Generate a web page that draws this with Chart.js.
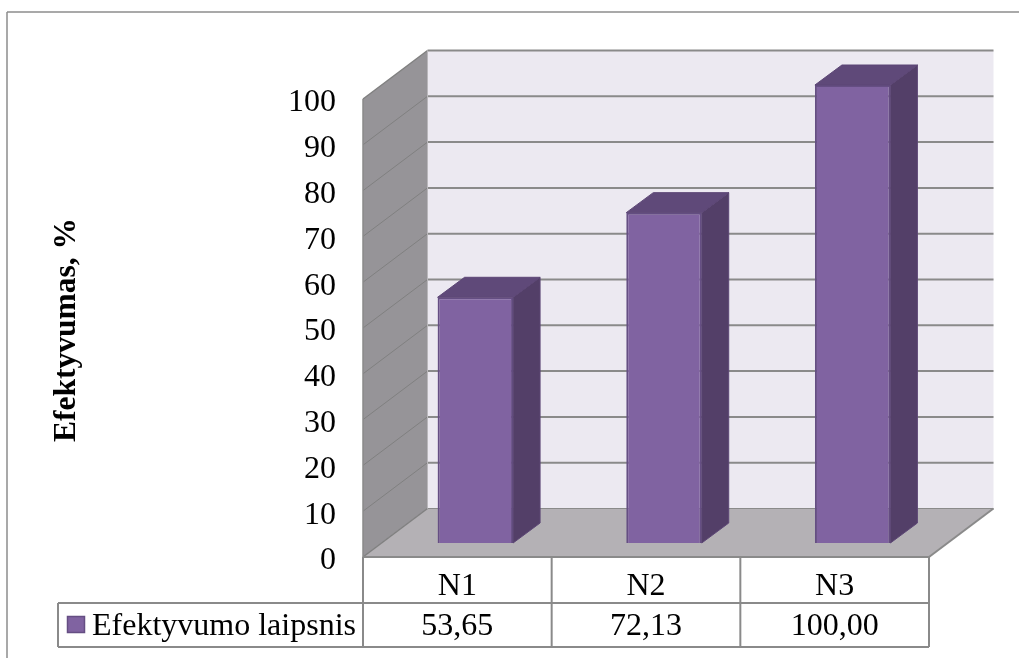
<!DOCTYPE html>
<html>
<head>
<meta charset="utf-8">
<title>Efektyvumas</title>
<script src="https://cdn.jsdelivr.net/npm/chart.js@4/dist/chart.umd.min.js"></script>
<style>
body { margin: 0; background: #fff; }
canvas { display: block; }
</style>
</head>
<body>
<canvas id="efficiency_chart" width="1019" height="658"></canvas>
<script>
const categories = ['N1', 'N2', 'N3']
const efficiency = [53.65, 72.13, 100.00]
const y_ticks = [0, 10, 20, 30, 40, 50, 60, 70, 80, 90, 100]
const series_name = 'Efektyvumo laipsnis'
const axis_title = 'Efektyvumas, %'

const FONT = '"Liberation Serif", "Times New Roman", serif'
const LINE = '#8a8a8a'
const depth = { x: 64.5, y: -48.5 }  // box depth, front plane to back wall
const bar_depth = { x: 27, y: -20 }
const bar_shift = { x: 18, y: -14 }  // bars stand in the middle of the floor

function poly(ctx, points, fill, stroke, width) {
    ctx.beginPath()
    points.forEach((p, i) => i ? ctx.lineTo(p[0], p[1]) : ctx.moveTo(p[0], p[1]))
    ctx.closePath()
    if (fill) {
        ctx.fillStyle = fill
        ctx.fill()
    }
    if (stroke) {
        ctx.strokeStyle = stroke
        ctx.lineWidth = width || 1
        ctx.stroke()
    }
}

function segment(ctx, x1, y1, x2, y2, color, width) {
    ctx.beginPath()
    ctx.moveTo(x1, y1)
    ctx.lineTo(x2, y2)
    ctx.strokeStyle = color
    ctx.lineWidth = width
    ctx.stroke()
}

// page frame, walls, floor and grid of the 3d box
const box3d = {
    id: 'box3d',
    beforeDatasetsDraw(chart) {
        const { ctx, scales: { x, y } } = chart
        const l = x.left, r = x.right, t = y.getPixelForValue(100), b = y.getPixelForValue(0)
        ctx.save()
        segment(ctx, 7, 12, 1019, 12, '#8c8c8c', 1.5)
        segment(ctx, 7, 12, 7, 658, '#8c8c8c', 1.5)

        poly(ctx, [[l + depth.x, t + depth.y], [r + depth.x, t + depth.y], [r + depth.x, b + depth.y], [l + depth.x, b + depth.y]], '#ece9f1')
        poly(ctx, [[l, t], [l + depth.x, t + depth.y], [l + depth.x, b + depth.y], [l, b]], '#969498')
        poly(ctx, [[l, b], [r, b], [r + depth.x, b + depth.y], [l + depth.x, b + depth.y]], '#b4b1b5')

        y_ticks.forEach(v => {
            const py = y.getPixelForValue(v)
            segment(ctx, l, py, l + depth.x, py + depth.y, '#808080', v === 100 || v === 0 ? 1.5 : 1)
            segment(ctx, l + depth.x, py + depth.y, r + depth.x, py + depth.y, LINE, v === 0 ? 1 : 2)
        })
        segment(ctx, l, t, l, b, LINE, 1.5)
        segment(ctx, l + depth.x, t + depth.y, l + depth.x, b + depth.y, '#b9b7bb', 1)
        segment(ctx, r, b, r + depth.x, b + depth.y, LINE, 2)

        ctx.translate(75, 330)
        ctx.rotate(-Math.PI / 2)
        ctx.fillStyle = '#000'
        ctx.font = 'bold 31.5px ' + FONT
        ctx.textAlign = 'center'
        ctx.textBaseline = 'alphabetic'
        ctx.fillText(axis_title, 0, 0)
        ctx.restore()
    },
    // the library draws the front faces, moved back onto the floor
    beforeDatasetDraw(chart) {
        chart.ctx.save()
        chart.ctx.translate(bar_shift.x, bar_shift.y)
    },
    afterDatasetDraw(chart, args) {
        const ctx = chart.ctx
        const d = bar_depth
        chart.getDatasetMeta(args.index).data.forEach(bar => {
            const { x, y, base, width } = bar.getProps(['x', 'y', 'base', 'width'], true)
            const l = x - width / 2, r = x + width / 2
            poly(ctx, [[r, y], [r + d.x, y + d.y], [r + d.x, base + d.y], [r, base]], '#533f68', '#5d4776', 1)
            poly(ctx, [[l, y], [l + d.x, y + d.y], [r + d.x, y + d.y], [r, y]], '#5f4979', '#5d4776', 1)
        })
        ctx.restore()
    }
}

// category row and value row under the box
const data_table = {
    id: 'data_table',
    afterDraw(chart) {
        const { ctx, scales: { x, y } } = chart
        const top = y.getPixelForValue(0), mid = 603, bottom = 647, left = 58
        const edges = categories.map((c, i) => x.getPixelForValue(i) - x.width / categories.length / 2)
        edges.push(x.right)
        ctx.save()
        segment(ctx, x.left, top, x.right, top, LINE, 2)
        segment(ctx, left, mid, x.right, mid, LINE, 2)
        segment(ctx, left, bottom, x.right, bottom, LINE, 2)
        segment(ctx, left, mid, left, bottom, LINE, 2)
        edges.forEach(px => segment(ctx, px, top, px, bottom, LINE, 2))

        poly(ctx, [[67.5, 616.5], [84.5, 616.5], [84.5, 632.5], [67.5, 632.5]], '#8063a1', '#654e83', 1.5)

        ctx.fillStyle = '#000'
        ctx.font = '32px ' + FONT
        ctx.textBaseline = 'alphabetic'
        ctx.textAlign = 'left'
        ctx.fillText(series_name, 92, 635)
        ctx.textAlign = 'center'
        efficiency.forEach((v, i) => {
            ctx.fillText(v.toFixed(2).replace('.', ','), x.getPixelForValue(i), 635)
        })
        ctx.restore()
    }
}

new Chart(document.querySelector('#efficiency_chart'), {
    type: 'bar',
    data: {
        labels: categories,
        datasets: [{
            label: series_name,
            data: efficiency,
            backgroundColor: '#8063a1',
            borderColor: '#654e83',
            borderWidth: 2,
            barPercentage: 0.4,
            categoryPercentage: 1,
            clip: false
        }]
    },
    options: {
        responsive: false,
        animation: false,
        layout: { padding: { top: 99, right: 90, bottom: 0, left: 0 } },
        plugins: {
            legend: { display: false },
            tooltip: { enabled: false }
        },
        scales: {
            x: {
                grid: { display: false },
                border: { display: false },
                ticks: {
                    color: '#000',
                    padding: 2,
                    maxRotation: 0,
                    font: { family: FONT, size: 32 }
                },
                afterFit(scale) { scale.height = 101 }
            },
            y: {
                min: 0,
                max: 100,
                grid: { display: false },
                border: { display: false },
                afterBuildTicks(scale) { scale.ticks = y_ticks.map(value => ({ value })) },
                ticks: {
                    color: '#000',
                    padding: 19,
                    // empty first line pushes the number half a line down
                    callback: value => ['', String(value)],
                    font: { family: FONT, size: 32, lineHeight: '8px' }
                },
                afterFit(scale) { scale.width = 363 }
            }
        }
    },
    plugins: [box3d, data_table]
})
</script>
</body>
</html>
